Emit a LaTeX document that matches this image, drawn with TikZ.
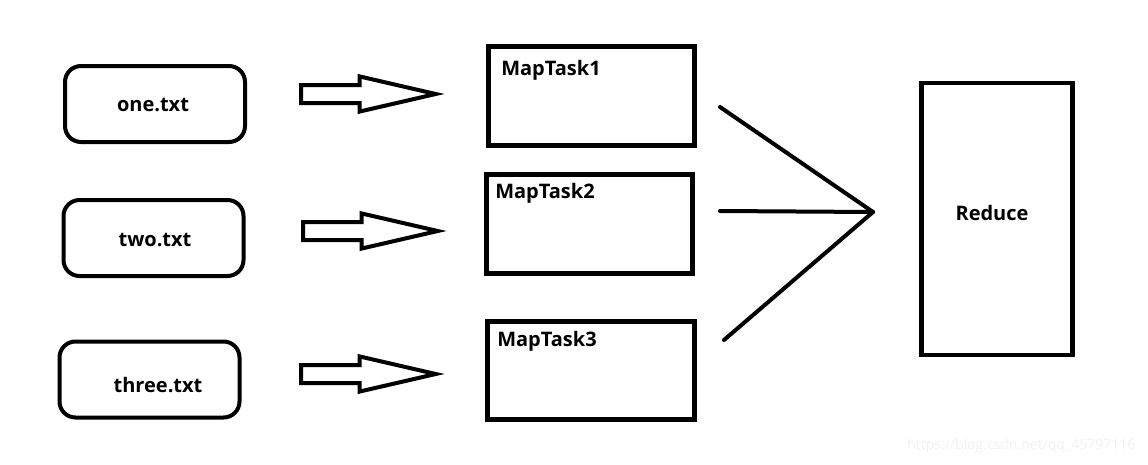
\documentclass[tikz,border=0pt]{standalone}
\usepackage{fontspec}
\setmainfont{Open Sans}
\usetikzlibrary{shapes.arrows}
\definecolor{Ink}{HTML}{000000}
\definecolor{Mark}{HTML}{F2F2F2}
\tikzset{
  filebox/.style={draw=Ink, line width=3pt, rounded corners=12pt, minimum width=135pt, minimum height=57pt, inner sep=0pt},
  taskbox/.style={draw=Ink, line width=3.75pt, minimum width=155pt, minimum height=74pt, inner sep=0pt},
  blockarrow/.style={single arrow, draw=Ink, line width=3pt, inner xsep=0pt, inner ysep=5.25pt, single arrow head extend=6.4pt, single arrow tip angle=26, single arrow head indent=0pt, minimum height=101pt, anchor=tail},
  boldlabel/.style={font=\fontsize{15}{17}\selectfont\bfseries, text=Ink, inner sep=0pt},
  merge/.style={draw=Ink, line width=3pt, line cap=round}
}
\begin{document}
\begin{tikzpicture}[x=0.75pt,y=-0.75pt]
\useasboundingbox[fill=white] (0,0) rectangle (1148,464);
% input files
\node[filebox] (one) at (155,104) {};
\node[filebox] (two) at (153.5,238) {};
\node[filebox] (three) at (149.5,379.5) {};
\node[boldlabel] (onetxt) at (153,105) {one.txt};
\node[boldlabel] (twotxt) at (155,240) {two.txt};
\node[boldlabel] (threetxt) at (158,385) {three.txt};
% block arrows
\node[blockarrow] (a1) at (299,94) {};
\node[blockarrow] (a2) at (301,231) {};
\node[blockarrow] (a3) at (299,374) {};
% map tasks
\node[taskbox] (m1) at (591.5,96) {};
\node[taskbox] (m2) at (589.5,224) {};
\node[taskbox] (m3) at (591,370.5) {};
\node[boldlabel, anchor=base west] (m1txt) at (501,75) {MapTask1};
\node[boldlabel, anchor=base west] (m2txt) at (495,198) {MapTask2};
\node[boldlabel, anchor=base west] (m3txt) at (497,346) {MapTask3};
% reduce
\node[draw=Ink, line width=3.5pt, minimum width=113pt, minimum height=204pt, inner sep=0pt] (red) at (997,219) {};
\node[boldlabel] (redtxt) at (992,213) {Reduce};
% joining lines
\coordinate (j1) at (720,107);
\coordinate (j2) at (720,211);
\coordinate (j3) at (724,340);
\coordinate (join) at (873,212);
\draw[merge] (j1) -- (join);
\draw[merge] (j2) -- (join);
\draw[merge] (j3) -- (join);
\node[text=Mark, font=\fontsize{10.5}{12}\selectfont, anchor=east] (mark) at (1140,446) {https://blog.csdn.net/qq\_45797116};
\end{tikzpicture}
\end{document}
